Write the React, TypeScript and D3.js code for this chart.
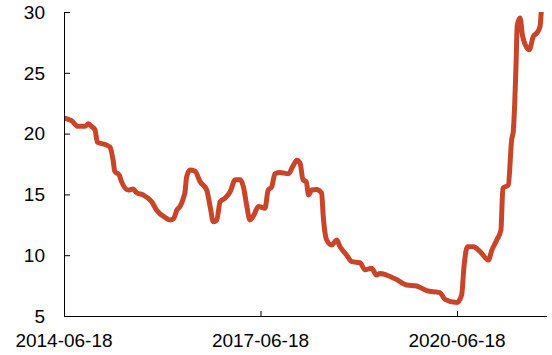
import { useEffect, useRef } from 'react'
import * as d3 from 'd3'

const dates = [
  '2014-06-18', '2014-07-30', '2014-09-05', '2014-10-13', '2014-11-01', '2014-11-20', '2014-12-08',
  '2014-12-21', '2015-02-03', '2015-03-01', '2015-03-19', '2015-03-28', '2015-04-22', '2015-05-05',
  '2015-06-11', '2015-07-09', '2015-07-28', '2015-09-03', '2015-10-20', '2015-11-17', '2016-01-03',
  '2016-01-31', '2016-02-19', '2016-03-08', '2016-03-26', '2016-04-14', '2016-04-23', '2016-05-02',
  '2016-05-21', '2016-06-18', '2016-07-16', '2016-08-22', '2016-09-10', '2016-09-28', '2016-10-17',
  '2016-11-05', '2016-12-03', '2016-12-30', '2017-01-28', '2017-02-25', '2017-03-15', '2017-04-03',
  '2017-04-20', '2017-05-12', '2017-06-06', '2017-07-13', '2017-07-31', '2017-08-19', '2017-09-07',
  '2017-10-05', '2017-11-21', '2017-12-15', '2018-01-07', '2018-01-25', '2018-02-10', '2018-02-28',
  '2018-03-13', '2018-03-30', '2018-04-27', '2018-05-25', '2018-06-03', '2018-06-22', '2018-07-20',
  '2018-08-17', '2018-09-05', '2018-10-12', '2018-11-09', '2018-12-25', '2019-01-22', '2019-02-28',
  '2019-03-27', '2019-04-15', '2019-05-22', '2019-07-17', '2019-09-11', '2019-11-06', '2020-01-01',
  '2020-03-15', '2020-04-12', '2020-06-17', '2020-07-14', '2020-07-27', '2020-08-15', '2020-09-18',
  '2020-10-25', '2020-12-10', '2020-12-29', '2021-01-26', '2021-02-18', '2021-03-01', '2021-03-31',
  '2021-04-19', '2021-04-28', '2021-05-13', '2021-05-20', '2021-06-05', '2021-06-19', '2021-07-26',
  '2021-08-18', '2021-09-05', '2021-09-24', '2021-10-03', '2021-10-10',
]

const values = [
  21.3, 21.06, 20.6, 20.6, 20.8, 20.57, 20.3,
  19.3, 19.1, 18.9, 17.8, 16.9, 16.6, 16.05,
  15.36, 15.44, 15.14, 14.95, 14.4, 13.7, 13.1,
  12.9, 13.0, 13.7, 14.0, 14.7, 15.2, 16.45,
  17.0, 16.9, 16.05, 15.36, 14.0, 12.75, 12.9,
  14.4, 14.7, 15.2, 16.2, 16.2, 15.6, 14.0,
  12.9, 13.3, 14.0, 13.86, 15.36, 15.6, 16.7,
  16.8, 16.7, 17.3, 17.8, 17.55, 16.2, 16.05,
  14.95, 15.36, 15.4, 15.1, 13.2, 11.25, 10.84,
  11.25, 10.7, 10.0, 9.47, 9.38, 8.8, 8.93,
  8.37, 8.5, 8.37, 8.0, 7.55, 7.47, 7.08,
  6.92, 6.37, 6.1, 6.73, 9.05, 10.7, 10.7,
  10.3, 9.6, 10.4, 11.25, 12.07, 15.5, 15.77,
  19.5, 20.2, 25.5, 28.9, 29.5, 28.0, 26.9,
  28.0, 28.25, 28.8, 30.5, 32,
]

const xTickLabels = ['2014-06-18', '2017-06-18', '2020-06-18']
const yTicks = [5, 10, 15, 20, 25, 30]
const xDomain = ['2014-06-18', '2021-11-02']

export default function App() {
  const svgRef = useRef<SVGSVGElement>(null)

  useEffect(() => {
    if (!svgRef.current) return
    const svg = d3.select(svgRef.current)
    svg.selectAll('*').remove()

    const parse = d3.timeParse('%Y-%m-%d')
    const data = dates.map((d, i) => ({ date: parse(d) as Date, value: values[i] }))

    const left = 64, right = 547, top = 12, bottom = 316

    const x = d3.scaleTime()
      .domain(xDomain.map(d => parse(d) as Date))
      .range([left, right])
    const y = d3.scaleLinear().domain([5, 30]).range([bottom, top])

    // clip so the last spike is cut at the top
    svg.append('defs').append('clipPath').attr('id', 'plot-clip')
      .append('rect')
      .attr('x', left).attr('y', top)
      .attr('width', right - left).attr('height', bottom - top)

    const line = d3.line<{ date: Date; value: number }>()
      .x(d => x(d.date))
      .y(d => y(d.value))
      .curve(d3.curveMonotoneX)

    svg.append('path')
      .datum(data)
      .attr('clip-path', 'url(#plot-clip)')
      .attr('fill', 'none')
      .attr('stroke', '#c9452a')
      .attr('stroke-width', 5)
      .attr('stroke-linejoin', 'round')
      .attr('stroke-linecap', 'round')
      .attr('d', line)

    // y axis
    const yAxis = svg.append('g')
      .attr('transform', `translate(${left},0)`)
      .call(d3.axisRight(y).tickValues(yTicks).tickSize(6).tickFormat(() => ''))
    yAxis.select('.domain').attr('d', `M0.5,${top}V${bottom}`)
    yAxis.selectAll('line').attr('stroke', '#000')
    yAxis.select('.domain').attr('stroke', '#000')

    svg.append('g')
      .selectAll('text')
      .data(yTicks)
      .enter().append('text')
      .attr('x', 45)
      .attr('y', d => y(d))
      .attr('dy', '0.36em')
      .attr('text-anchor', 'end')
      .style('font-family', 'Liberation Sans, Arial, sans-serif')
      .style('font-size', '19px')
      .style('fill', '#000')
      .text(d => d)

    // x axis
    const xTicks = xTickLabels.map(d => parse(d) as Date)
    const xAxis = svg.append('g')
      .attr('transform', `translate(0,${bottom})`)
      .call(d3.axisTop(x).tickValues(xTicks).tickSize(5).tickFormat(() => ''))
    xAxis.select('.domain').attr('d', `M${left},0.5H${right}`).attr('stroke', '#000')
    xAxis.selectAll('line').attr('stroke', '#000')

    svg.append('g')
      .selectAll('text')
      .data(xTickLabels)
      .enter().append('text')
      .attr('x', d => x(parse(d) as Date))
      .attr('y', 347)
      .attr('text-anchor', 'middle')
      .style('font-family', 'Liberation Sans, Arial, sans-serif')
      .style('font-size', '19px')
      .style('fill', '#000')
      .text(d => d)
  }, [])

  return (
    <svg
      ref={svgRef}
      width={552}
      height={355}
      style={{ position: 'absolute', left: 0, top: 0, background: '#fff' }}
    />
  )
}
